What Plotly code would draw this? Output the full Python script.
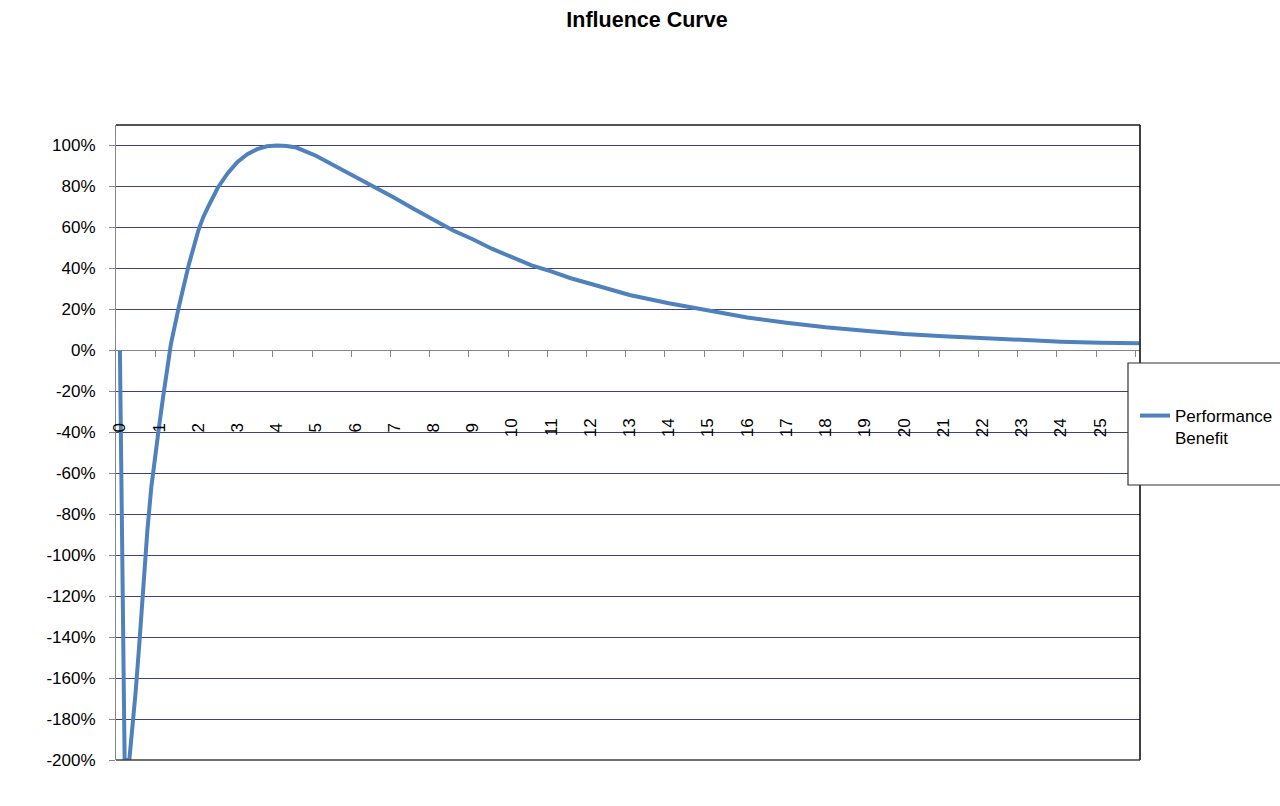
import plotly.graph_objects as go

# ---- data ----
days = [0, 0.12, 0.24, 0.3, 0.4, 0.5, 0.6, 0.7, 0.8, 0.9, 1.0, 1.1, 1.2, 1.3,
        1.5, 1.75, 2.0, 2.125, 2.25, 2.5, 2.75, 3.0, 3.25, 3.5, 3.75, 4.0,
        4.25, 4.5, 5.0, 5.5, 6.0, 6.5, 7.0, 7.5, 8.0, 8.5, 9.0, 9.5, 10.0,
        10.5, 11.0, 11.5, 12.0, 13.0, 14.0, 15.0, 16.0, 17.0, 18.0, 19.0,
        20.0, 21.0, 22.0, 23.0, 24.0, 25.0, 26.0]
benefit = [0.0, -2.0, -2.0, -1.89, -1.67, -1.42, -1.13, -0.88, -0.67, -0.50,
           -0.37, -0.23, -0.10, 0.03, 0.21, 0.413, 0.585, 0.65, 0.70, 0.795,
           0.865, 0.92, 0.957, 0.982, 0.996, 1.0, 0.997, 0.99, 0.95, 0.90,
           0.85, 0.795, 0.745, 0.69, 0.635, 0.585, 0.542, 0.495, 0.455,
           0.415, 0.385, 0.352, 0.325, 0.27, 0.23, 0.193, 0.16, 0.135, 0.113,
           0.096, 0.08, 0.069, 0.059, 0.049, 0.042, 0.037, 0.034]

x_label_pos = list(range(26))
x_labels = [str(i) for i in range(26)]
x_tick_marks = [i - 0.1 for i in range(1, 27)]

y_tick_vals = [-2.0, -1.8, -1.6, -1.4, -1.2, -1.0, -0.8, -0.6, -0.4, -0.2,
               0.0, 0.2, 0.4, 0.6, 0.8, 1.0]
y_tick_labels = ["-200%", "-180%", "-160%", "-140%", "-120%", "-100%", "-80%",
                 "-60%", "-40%", "-20%", "0%", "20%", "40%", "60%", "80%", "100%"]

series_name = "Performance<br>Benefit"
title_text = "Influence Curve"

# ---- styling ----
FONT = "Liberation Sans, Arial, sans-serif"
X_RANGE = [-0.1, 26.02]
Y_RANGE = [-2.0, 1.1]
L, R, T, B = 116, 140, 125, 46
W, H = 1280, 806
plot_h = H - T - B
plot_w = W - L - R


def py(px):  # pixel y -> paper fraction
    return (H - B - px) / plot_h


def px_(p):  # pixel x -> paper fraction
    return (p - L) / plot_w


zero_pos = (0 - Y_RANGE[0]) / (Y_RANGE[1] - Y_RANGE[0])

# centre single-digit labels like the two-digit ones
nb = "\u00a0"
x_labels_disp = [(nb + s + nb) if len(s) == 1 else s for s in x_labels]

fig = go.Figure()
fig.add_trace(go.Scatter(
    x=days, y=benefit, mode="lines", name=series_name,
    line=dict(color="#4f81bd", width=4),
    hoverinfo="skip",
))
# invisible companion so the label axis (x2) is drawn
fig.add_trace(go.Scatter(
    x=days, y=benefit, mode="lines", xaxis="x2", showlegend=False,
    line=dict(color="rgba(0,0,0,0)", width=0), hoverinfo="skip",
))

fig.update_layout(
    width=W, height=H,
    margin=dict(l=L, r=R, t=T, b=B, autoexpand=False),
    paper_bgcolor="white", plot_bgcolor="white",
    font=dict(family=FONT, size=17, color="#000000"),
    title=dict(text="<b>" + title_text + "</b>", x=647 / W, xref="container",
               xanchor="center", y=1 - 19 / H, yref="container",
               yanchor="middle", font=dict(family=FONT, size=21.5, color="#000")),
    showlegend=True,
    legend=dict(x=px_(1135), y=py(398), xanchor="left", yanchor="top",
                bgcolor="rgba(0,0,0,0)", borderwidth=0, valign="top",
                font=dict(family=FONT, size=17, color="#000")),
    xaxis=dict(range=X_RANGE, anchor="free", position=zero_pos,
               showgrid=False, zeroline=False, showline=True,
               linecolor="#868686", linewidth=1, layer="below traces",
               tickmode="array", tickvals=x_tick_marks, ticks="outside",
               ticklen=6, tickcolor="#868686", showticklabels=False),
    xaxis2=dict(range=X_RANGE, overlaying="x", anchor="free",
                position=py(414), showgrid=False, zeroline=False,
                showline=False, ticks="", tickmode="array",
                tickvals=x_label_pos, ticktext=x_labels_disp, tickangle=-90,
                tickfont=dict(family=FONT, size=17, color="#000")),
    yaxis=dict(range=Y_RANGE, tickmode="array", tickvals=y_tick_vals,
               ticktext=y_tick_labels, showgrid=True, gridcolor="#3f3f8a",
               gridwidth=1, zeroline=False, showline=True,
               linecolor="#868686", linewidth=1, ticks="outside", ticklen=6,
               tickcolor="#868686", ticklabelstandoff=10),
    shapes=[
        dict(type="line", xref="paper", yref="paper", x0=0, x1=1, y0=1, y1=1,
             line=dict(color="#1a1a1a", width=1.5)),
        dict(type="line", xref="paper", yref="paper", x0=1, x1=1, y0=0, y1=1,
             line=dict(color="#000000", width=1.5)),
        dict(type="line", xref="paper", yref="paper", x0=0, x1=1, y0=0, y1=0,
             line=dict(color="#404040", width=1.5)),
        dict(type="rect", xref="paper", yref="paper", x0=px_(1128),
             x1=px_(1300), y0=py(485), y1=py(363), layer="above",
             fillcolor="white", line=dict(color="#333333", width=1.2)),
    ],
)

fig.write_html("out.html")
